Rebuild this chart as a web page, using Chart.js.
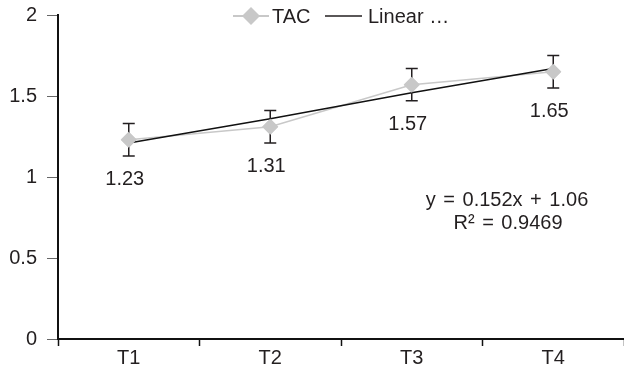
<!DOCTYPE html>
<html>
<head>
<meta charset="utf-8">
<script src="https://cdn.jsdelivr.net/npm/chart.js@4"></script>
<style>
  html, body { margin: 0; padding: 0; background: #fff; }
  #wrap { width: 624px; height: 369px; }
</style>
</head>
<body>
<div id="wrap"><canvas id="myChart" width="624" height="369"></canvas></div>
<script>
const categories = ["T1", "T2", "T3", "T4"];
const tacValues = [1.23, 1.31, 1.57, 1.65];
const tacErrors = [0.1, 0.1, 0.1, 0.1];
const trendValues = [1.21, 1.36, 1.52, 1.67];
const equationLines = ["y = 0.152x + 1.06", "R\u00b2 = 0.9469"];
const yTicks = [0, 0.5, 1, 1.5, 2];

const FONT = "'Liberation Sans', Arial, sans-serif";
const TEXT = "#231f20";
const GRAY = "#c8c8c8";

// error bars, then the markers again on top
const errorBars = {
  id: "errorBars",
  afterDatasetsDraw(chart) {
    const ctx = chart.ctx;
    const x = chart.scales.x, y = chart.scales.y;
    ctx.save();
    ctx.strokeStyle = TEXT;
    ctx.lineWidth = 1.5;
    tacValues.forEach((v, i) => {
      const px = x.getPixelForValue(i);
      const top = y.getPixelForValue(v + tacErrors[i]);
      const bot = y.getPixelForValue(v - tacErrors[i]);
      ctx.beginPath();
      ctx.moveTo(px, top); ctx.lineTo(px, bot);
      ctx.moveTo(px - 6, top); ctx.lineTo(px + 6, top);
      ctx.moveTo(px - 6, bot); ctx.lineTo(px + 6, bot);
      ctx.stroke();
    });
    const meta = chart.getDatasetMeta(0);
    meta.data.forEach(pt => pt.draw(ctx, chart.chartArea));
    ctx.restore();
  }
};

// value labels, legend and trend equation
const extras = {
  id: "extras",
  afterDraw(chart) {
    const ctx = chart.ctx;
    ctx.save();
    ctx.fillStyle = TEXT;
    ctx.font = "20px " + FONT;
    ctx.textAlign = "center";
    ctx.textBaseline = "middle";
    const meta = chart.getDatasetMeta(0);
    meta.data.forEach((pt, i) => {
      ctx.fillText(tacValues[i].toFixed(2), pt.x - 4, pt.y + 40);
    });

    ctx.wordSpacing = "2px";
    ctx.fillText(equationLines[0], 507, 200);
    ctx.fillText(equationLines[1], 508, 223);
    ctx.wordSpacing = "0px";

    // legend
    ctx.textAlign = "left";
    ctx.strokeStyle = GRAY;
    ctx.lineWidth = 2;
    ctx.beginPath(); ctx.moveTo(233, 16); ctx.lineTo(269, 16); ctx.stroke();
    ctx.fillStyle = GRAY;
    ctx.beginPath();
    ctx.moveTo(251, 7); ctx.lineTo(260, 16); ctx.lineTo(251, 25); ctx.lineTo(242, 16);
    ctx.closePath(); ctx.fill();
    ctx.fillStyle = TEXT;
    ctx.fillText(chart.data.datasets[0].label, 272, 17);
    ctx.strokeStyle = TEXT;
    ctx.lineWidth = 1.3;
    ctx.beginPath(); ctx.moveTo(325, 16); ctx.lineTo(362, 16); ctx.stroke();
    ctx.fillText(chart.data.datasets[1].label, 368, 17);
    ctx.restore();
  }
};

new Chart(document.getElementById("myChart"), {
  type: "line",
  data: {
    labels: categories,
    datasets: [
      {
        label: "TAC",
        data: tacValues,
        borderColor: GRAY,
        backgroundColor: GRAY,
        borderWidth: 1.5,
        pointStyle: "rectRot",
        pointRadius: 8,
        pointBorderWidth: 0,
        tension: 0,
        order: 2
      },
      {
        label: "Linear …",
        data: trendValues,
        borderColor: "#111",
        borderWidth: 1.5,
        pointRadius: 0,
        tension: 0,
        order: 1
      }
    ]
  },
  options: {
    responsive: false,
    animation: false,
    events: [],
    layout: { autoPadding: false, padding: { top: 15, right: 0, bottom: 0, left: 0 } },
    plugins: { legend: { display: false }, tooltip: { enabled: false } },
    scales: {
      x: {
        offset: true,
        border: { color: "#111", width: 2 },
        grid: { offset: true, drawOnChartArea: false, tickLength: 7, color: "#111", tickWidth: 1.5 },
        ticks: { color: TEXT, font: { family: FONT, size: 20 }, padding: 0 },
        afterFit(s) { s.height = 30; s.paddingRight = 0; s.paddingLeft = 0; }
      },
      y: {
        min: 0, max: 2,
        afterBuildTicks(s) { s.ticks = yTicks.map(v => ({ value: v })); },
        border: { color: "#111", width: 2 },
        grid: { drawOnChartArea: false, tickLength: 11, color: "#666", tickWidth: 1 },
        ticks: { color: TEXT, font: { family: FONT, size: 20 }, padding: 10, callback: v => String(v) },
        afterFit(s) { s.width = 58; s.paddingTop = 0; s.paddingBottom = 0; }
      }
    }
  },
  plugins: [errorBars, extras]
});
</script>
</body>
</html>
